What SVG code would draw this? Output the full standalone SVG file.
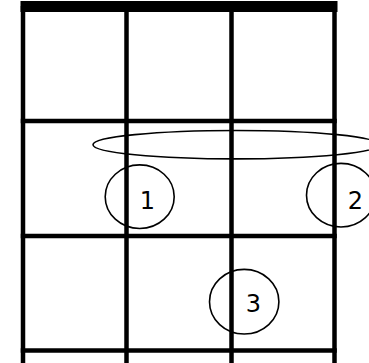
<svg xmlns="http://www.w3.org/2000/svg" width="369" height="363" viewBox="0 0 369 363">
<style>
.grid{stroke:#000;stroke-width:4.5;fill:none}
.mark{stroke:#000;stroke-width:1.6;fill:none}
.lbl{font-family:"DejaVu Sans",sans-serif;font-size:24px;fill:#000;text-anchor:middle}
</style>
<rect width="369" height="363" fill="#fff"/>
<g id="fretboard">
<rect id="nut" x="20.5" y="1" width="317" height="11" fill="#000"/>
<g class="grid">
<line x1="23" y1="6" x2="23" y2="363"/>
<line x1="126.5" y1="6" x2="126.5" y2="363"/>
<line x1="231.5" y1="6" x2="231.5" y2="363"/>
<line x1="334.5" y1="6" x2="334.5" y2="363"/>
<line x1="20.75" y1="121" x2="336.75" y2="121"/>
<line x1="20.75" y1="236" x2="336.75" y2="236"/>
<line x1="20.75" y1="350.5" x2="336.75" y2="350.5"/>
</g>
</g>
<g id="barre"><ellipse class="mark" cx="236" cy="144.7" rx="143" ry="14.2"/></g>
<g id="finger1"><ellipse class="mark" cx="139.7" cy="196.7" rx="34.5" ry="31.8"/><text class="lbl" x="147.5" y="209">1</text></g>
<g id="finger2"><ellipse class="mark" cx="341" cy="195.2" rx="34.5" ry="31.8"/><text class="lbl" x="355.5" y="209">2</text></g>
<g id="finger3"><ellipse class="mark" cx="244.2" cy="301.7" rx="34.7" ry="32.3"/><text class="lbl" x="253.5" y="311.5">3</text></g>
<g id="connectors"/>
</svg>
